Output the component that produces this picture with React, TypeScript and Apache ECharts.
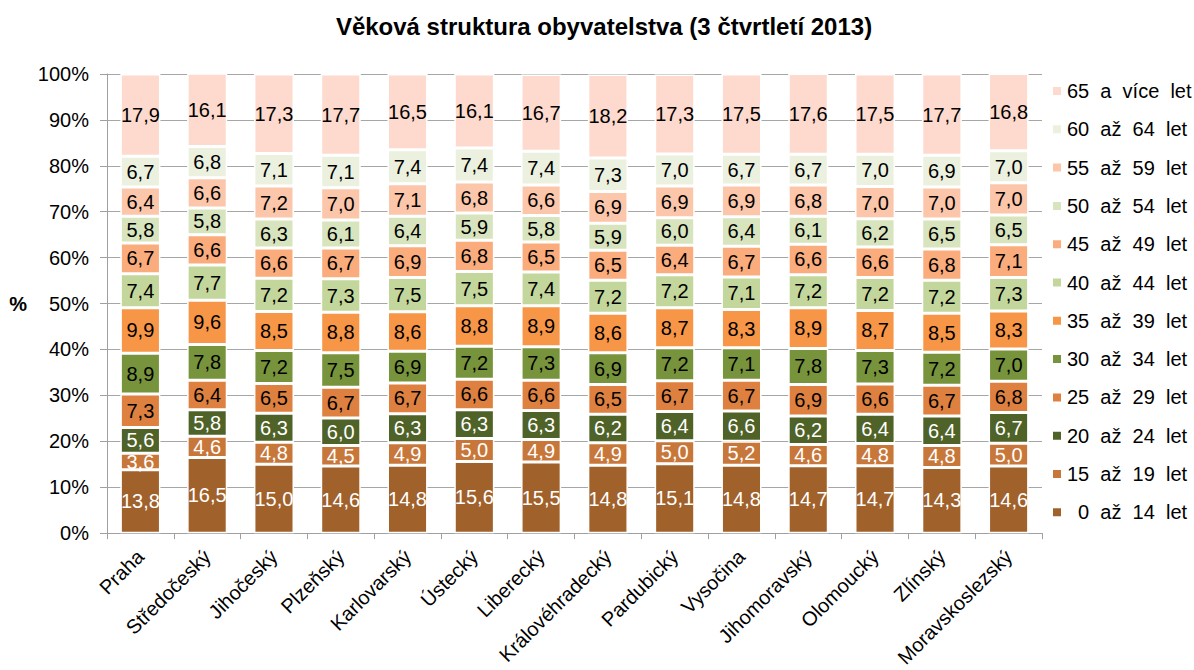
import React, { useEffect, useRef } from "react";
import * as echarts from "echarts";

const regions = [
  "Praha", "Středočeský", "Jihočeský", "Plzeňský", "Karlovarský", "Ústecký", "Liberecký",
  "Královéhradecký", "Pardubický", "Vysočina", "Jihomoravský", "Olomoucký", "Zlínský", "Moravskoslezský",
];

const ageGroups = [
  "  0  až  14  let", "15  až  19  let", "20  až  24  let", "25  až  29  let", "30  až  34  let",
  "35  až  39  let", "40  až  44  let", "45  až  49  let", "50  až  54  let", "55  až  59  let",
  "60  až  64  let", "65  a  více  let",
];

// values per region, ordered by age group (0-14 ... 65+)
const praha = [13.8, 3.6, 5.6, 7.3, 8.9, 9.9, 7.4, 6.7, 5.8, 6.4, 6.7, 17.9];
const stredocesky = [16.5, 4.6, 5.8, 6.4, 7.8, 9.6, 7.7, 6.6, 5.8, 6.6, 6.8, 16.1];
const jihocesky = [15.0, 4.8, 6.3, 6.5, 7.2, 8.5, 7.2, 6.6, 6.3, 7.2, 7.1, 17.3];
const plzensky = [14.6, 4.5, 6.0, 6.7, 7.5, 8.8, 7.3, 6.7, 6.1, 7.0, 7.1, 17.7];
const karlovarsky = [14.8, 4.9, 6.3, 6.7, 6.9, 8.6, 7.5, 6.9, 6.4, 7.1, 7.4, 16.5];
const ustecky = [15.6, 5.0, 6.3, 6.6, 7.2, 8.8, 7.5, 6.8, 5.9, 6.8, 7.4, 16.1];
const liberecky = [15.5, 4.9, 6.3, 6.6, 7.3, 8.9, 7.4, 6.5, 5.8, 6.6, 7.4, 16.7];
const kralovehradecky = [14.8, 4.9, 6.2, 6.5, 6.9, 8.6, 7.2, 6.5, 5.9, 6.9, 7.3, 18.2];
const pardubicky = [15.1, 5.0, 6.4, 6.7, 7.2, 8.7, 7.2, 6.4, 6.0, 6.9, 7.0, 17.3];
const vysocina = [14.8, 5.2, 6.6, 6.7, 7.1, 8.3, 7.1, 6.7, 6.4, 6.9, 6.7, 17.5];
const jihomoravsky = [14.7, 4.6, 6.2, 6.9, 7.8, 8.9, 7.2, 6.6, 6.1, 6.8, 6.7, 17.6];
const olomoucky = [14.7, 4.8, 6.4, 6.6, 7.3, 8.7, 7.2, 6.6, 6.2, 7.0, 7.0, 17.5];
const zlinsky = [14.3, 4.8, 6.4, 6.7, 7.2, 8.5, 7.2, 6.8, 6.5, 7.0, 6.9, 17.7];
const moravskoslezsky = [14.6, 5.0, 6.7, 6.8, 7.0, 8.3, 7.3, 7.1, 6.5, 7.0, 7.0, 16.8];

const regionValues = [
  praha, stredocesky, jihocesky, plzensky, karlovarsky, ustecky, liberecky,
  kralovehradecky, pardubicky, vysocina, jihomoravsky, olomoucky, zlinsky, moravskoslezsky,
];

const yTicks = [0, 10, 20, 30, 40, 50, 60, 70, 80, 90, 100];

const colors = [
  "#A0612B", "#C8773A", "#4F6228", "#DE8140", "#77933C", "#F79646",
  "#C3D69B", "#FAAC7D", "#D7E4BD", "#FCC6AA", "#EBF1DE", "#FDDACD",
];
const labelColors = [
  "#FFFFFF", "#FFFFFF", "#FFFFFF", "#000000", "#000000", "#000000",
  "#000000", "#000000", "#000000", "#000000", "#000000", "#000000",
];

const FONT = "'Liberation Sans', Arial, sans-serif";

export default function App() {
  const ref = useRef<HTMLDivElement>(null);
  useEffect(() => {
    if (!ref.current) return;
    const chart = echarts.init(ref.current, null, { renderer: "svg" });
    const series = ageGroups.map((name, gi) => ({
      name,
      type: "bar",
      stack: "total",
      barWidth: "60%",
      data: regionValues.map((vals) => vals[gi]),
      itemStyle: { color: colors[gi], borderColor: "#FFFFFF", borderWidth: 1.5 },
      label: {
        show: true,
        position: "inside",
        color: labelColors[gi],
        fontSize: 20,
        fontFamily: FONT,
        formatter: (p: any) => Number(p.value).toFixed(1).replace(".", ","),
      },
    }));
    chart.setOption({
      animation: false,
      backgroundColor: "#FFFFFF",
      title: {
        text: "Věková struktura obyvatelstva (3 čtvrtletí 2013)",
        left: 599,
        textAlign: "center",
        top: 9,
        textStyle: { fontSize: 24, fontWeight: "bold", fontFamily: FONT, color: "#000000" },
      },
      legend: {
        data: ageGroups.slice().reverse(),
        orient: "vertical",
        left: 1046,
        top: 76,
        itemWidth: 10,
        itemHeight: 10,
        itemGap: 18.3,
        icon: "rect",
        textStyle: { fontSize: 20, fontFamily: FONT, color: "#000000", lineHeight: 20 },
      },
      grid: { left: 107, right: 152, top: 74, bottom: 135 },
      xAxis: {
        type: "category",
        data: regions,
        axisLine: { lineStyle: { color: "#A0A0A0", width: 1 } },
        axisTick: { show: true, length: 6, lineStyle: { color: "#A0A0A0" } },
        axisLabel: { rotate: 45, fontSize: 20, fontFamily: FONT, color: "#000000", margin: 20, interval: 0 },
      },
      yAxis: {
        type: "value",
        min: 0,
        max: 100,
        interval: 10,
        name: "%",
        nameLocation: "middle",
        nameRotate: 0,
        nameGap: 80,
        nameTextStyle: { fontSize: 20, fontWeight: "bold", fontFamily: FONT, color: "#000000" },
        axisLine: { show: true, lineStyle: { color: "#A0A0A0" } },
        axisTick: { show: true, length: 7, lineStyle: { color: "#A0A0A0" } },
        splitLine: { lineStyle: { color: "#A6A6A6" } },
        axisLabel: {
          fontSize: 20,
          fontFamily: FONT,
          color: "#000000",
          margin: 18,
          formatter: (v: number) => (yTicks.includes(v) ? `${v}%` : ""),
        },
      },
      series,
    });
    return () => chart.dispose();
  }, []);
  return <div ref={ref} style={{ width: 1194, height: 670, position: "absolute", left: 0, top: 0 }} />;
}
